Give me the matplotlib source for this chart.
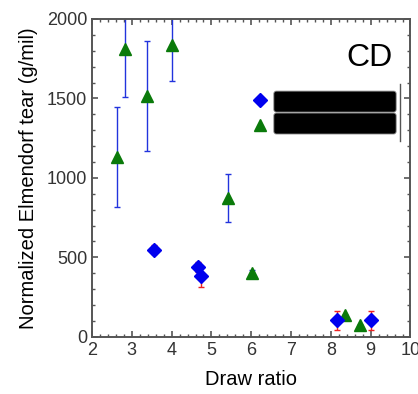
import matplotlib
matplotlib.use("Agg")
import matplotlib.pyplot as plt
from matplotlib.patches import FancyBboxPatch
from matplotlib.ticker import MultipleLocator

plt.rcParams["font.family"] = ["Liberation Sans", "DejaVu Sans"]

# blue diamonds (red error bars)
dia_x = [3.56, 4.66, 4.75, 8.16, 9.0]
dia_y = [548, 440, 380, 105, 105]
dia_err = [30, 30, 65, 60, 60]

# green triangles (blue error bars)
tri_x = [2.64, 2.82, 3.38, 4.02, 5.42, 6.01, 8.35, 8.74]
tri_y = [1133, 1810, 1515, 1835, 873, 400, 135, 75]
tri_err = [315, 300, 345, 225, 150, 20, 0, 0]

fig = plt.figure(figsize=(4.18, 3.94), dpi=100)
ax = fig.add_axes([0.2201, 0.1454, 0.7619, 0.8064])

ax.errorbar(tri_x, tri_y, yerr=tri_err, fmt="none", ecolor="#2233dd",
            elinewidth=1.0, capsize=2, capthick=1.0, zorder=2)
ax.errorbar(dia_x, dia_y, yerr=dia_err, fmt="none", ecolor="#ee2222",
            elinewidth=1.0, capsize=2, capthick=1.0, zorder=2)
ax.plot(tri_x, tri_y, "^", color="#0a7a0a", ms=9, mec="#0a7a0a", zorder=3)
ax.plot(dia_x, dia_y, "D", color="#0000ee", ms=7.5, mec="#0000ee", zorder=3)

ax.set_xlim(2, 10)
ax.set_ylim(0, 2000)
ax.xaxis.set_major_locator(MultipleLocator(1))
ax.xaxis.set_minor_locator(MultipleLocator(0.2))
ax.yaxis.set_major_locator(MultipleLocator(500))
ax.yaxis.set_minor_locator(MultipleLocator(100))
ax.tick_params(which="both", direction="in", top=True, right=True,
               color="#555555", labelsize=13, labelcolor="#333333")
ax.tick_params(which="major", length=4, width=1.2)
ax.tick_params(which="minor", length=2.5, width=1.0)
for s in ax.spines.values():
    s.set_color("#555555")
    s.set_linewidth(1.4)

ax.set_xlabel("Draw ratio", fontsize=14.5, labelpad=8)
ax.set_ylabel("Normalized Elmendorf tear (g/mil)", fontsize=14.5, labelpad=6)

ax.text(0.943, 0.877, "CD", transform=ax.transAxes, fontsize=23,
        ha="right", va="center")

# legend: markers plus redacted (black) label boxes
ax.plot([0.529], [0.745], "D", color="#0000ee", ms=7.5, transform=ax.transAxes,
        clip_on=False)
ax.plot([0.529], [0.667], "^", color="#0a7a0a", ms=9, transform=ax.transAxes,
        clip_on=False)
for yb in (0.707, 0.638):
    ax.add_patch(FancyBboxPatch((0.571, yb), 0.384, 0.066,
                                boxstyle="round,pad=0,rounding_size=0.008",
                                transform=ax.transAxes, fc="black", ec="#888888",
                                lw=0.6))
ax.plot([0.967, 0.967], [0.615, 0.795], color="#555555", lw=1.0,
        transform=ax.transAxes)

fig.savefig("out.png", dpi=100)
